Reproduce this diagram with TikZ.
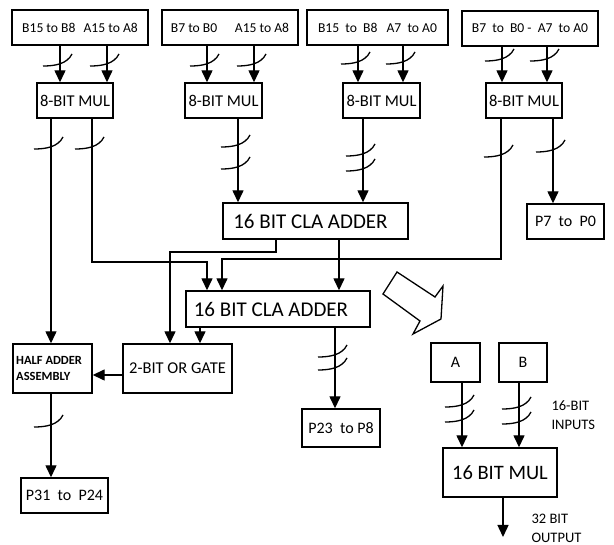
\documentclass[tikz,border=0pt]{standalone}
\usepackage{fontspec}
\setmainfont{Carlito}
\usetikzlibrary{arrows.meta}
\tikzset{
  box/.style={draw, line width=1.4pt, inner sep=0pt, anchor=center},
  arr/.style={line width=1.4pt, -{Triangle[width=11pt,length=12pt]}},
  bustick/.pic={\draw[line width=1.3pt] (-17,4) .. controls (-5,4) and (7,2) .. (12,-8);},
  ftop/.style={font=\fontsize{13.6}{16}\selectfont},
  fmul/.style={font=\fontsize{16.5}{19}\selectfont},
  fcla/.style={font=\fontsize{21}{24}\selectfont},
  fp/.style={font=\fontsize{16}{19}\selectfont},
  fsmall/.style={font=\fontsize{14.5}{19}\selectfont, align=left, anchor=west},
}
\begin{document}
\begin{tikzpicture}[x=1pt,y=-1pt]
\useasboundingbox (0,0) rectangle (614,545);
% top input boxes
\node[box, ftop, minimum width=136pt, minimum height=35pt] (b1) at (80,27.5) {B15 to B8\hspace{0.6em}A15 to A8};
\node[box, ftop, minimum width=136pt, minimum height=35pt] (b2) at (230,27.5) {B7 to B0\hspace{1.3em}A15 to A8};
\node[box, ftop, minimum width=141pt, minimum height=35pt] (b3) at (377.5,27.5) {B15\ \ to\ \ B8\ \ \ A7\ \ to A0};
\node[box, ftop, minimum width=136pt, minimum height=35pt] (b4) at (530,28.5) {\raisebox{-3pt}{B7\ \ to\ \ B0 -\ \ A7\ \ to A0}};
% 8-bit multipliers
\node[box, fmul, minimum width=76pt, minimum height=35pt] (m1) at (75,100.5) {8-BIT MUL};
\node[box, fmul, minimum width=77pt, minimum height=35pt] (m2) at (223.5,100.5) {8-BIT MUL};
\node[box, fmul, minimum width=77pt, minimum height=35pt] (m3) at (381.5,100.5) {8-BIT MUL};
\node[box, fmul, minimum width=76pt, minimum height=35pt] (m4) at (524,100.5) {8-BIT MUL};
% adders and outputs
\node[box, fcla, minimum width=185pt, minimum height=36pt] (cla1) at (315.5,221) {\hspace*{-10pt}16 BIT CLA ADDER};
\node[box, fp, minimum width=77pt, minimum height=35pt] (p70) at (565.5,221.5) {P7\ \ to\ \ P0};
\node[box, fcla, minimum width=184pt, minimum height=36pt] (cla2) at (278,309) {\hspace*{-14pt}16 BIT CLA ADDER};
\node[box, minimum width=79pt, minimum height=49pt] (ha) at (52.5,368.5) {};
\node[font=\fontsize{12.5}{16}\selectfont\bfseries, align=left, anchor=west, inner sep=0pt] (hat) at (16,368) {HALF ADDER\\ASSEMBLY};
\node[box, fmul, minimum width=109pt, minimum height=49pt] (orgate) at (177.5,368.5) {2-BIT OR GATE};
\node[box, fp, minimum width=87pt, minimum height=35pt] (p3124) at (64.5,495.5) {P31\ \ to\ \ P24};
\node[box, fp, minimum width=78pt, minimum height=38pt] (p238) at (341,428) {P23\ \ to P8};
% 16-bit multiplier overview
\node[box, fp, minimum width=49pt, minimum height=39pt] (A) at (455.5,362.5) {A};
\node[box, fp, minimum width=48pt, minimum height=39pt] (B) at (523,362.5) {B};
\node[box, font=\fontsize{20.5}{24}\selectfont, minimum width=114pt, minimum height=49pt] (mul16) at (500,472.5) {16 BIT MUL};
\node[fsmall] (inl) at (548,415) {16-BIT\\INPUTS};
\node[fsmall] (outl) at (528,528) {32 BIT\\OUTPUT};
% column coordinates
\foreach \c in {51,60,92,107,200,207,238,254,276,335,339,358,363,403,462,501,502,503,519,547,553}
  \coordinate (x\c) at (\c,0);
\coordinate (y375) at (0,375);
\coordinate (bus1) at (207,262);
\coordinate (bus2) at (222,259);
\coordinate (bus3) at (170,252);
\coordinate (out) at (503,537);
% inputs to 8-bit multipliers
\draw[arr] (b1.south -| x60) -- (m1.north -| x60);
\draw[arr] (b1.south -| x107) -- (m1.north -| x107);
\draw[arr] (b2.south -| x207) -- (m2.north -| x207);
\draw[arr] (b2.south -| x254) -- (m2.north -| x254);
\draw[arr] (b3.south -| x358) -- (m3.north -| x358);
\draw[arr] (b3.south -| x403) -- (m3.north -| x403);
\draw[arr] (b4.south -| x502) -- (m4.north -| x502);
\draw[arr] (b4.south -| x547) -- (m4.north -| x547);
% multiplier outputs
\draw[arr] (m1.south -| x51) -- (ha.north -| x51);
\draw[arr] (m1.south -| x92) |- (bus1) -- (cla2.north -| bus1);
\draw[arr] (m2.south -| x238) -- (cla1.north -| x238);
\draw[arr] (m3.south -| x363) -- (cla1.north -| x363);
\draw[arr] (m4.south -| x501) |- (bus2) -- (cla2.north -| bus2);
\draw[arr] (m4.south -| x553) -- (p70.north -| x553);
% adder outputs
\draw[arr] (cla1.south -| x276) |- (bus3) -- (orgate.north -| bus3);
\draw[arr] (cla1.south -| x339) -- (cla2.north -| x339);
\draw[arr] (cla2.south -| x200) -- (orgate.north -| x200);
\draw[arr] (cla2.south -| x335) -- (p238.north -| x335);
\draw[arr] (orgate.west |- y375) -- (ha.east |- y375);
\draw[arr] (ha.south -| x51) -- (p3124.north -| x51);
% 16-bit mul overview
\draw[arr] (A.south -| x462) -- (mul16.north -| x462);
\draw[arr] (B.south -| x519) -- (mul16.north -| x519);
\draw[arr] (mul16.south -| x503) -- (out);
% bus width ticks
\foreach \p in {(60,62),(107,62),(207,62),(254,62),(358,60),(403,60),(502,57),(547,57),
  (51,145),(92,145),(238,143),(238,165),(363,152),(363,167),(501,153),(553,148),
  (51,423),(335,353),(335,366),(462,403),(462,418),(519,405),(519,420)}
  \pic at \p {bustick};
% hollow arrow
\draw[line width=1.3pt, line join=miter] (383,294) -- (397,272) -- (435,297) -- (443,286) -- (441,319) -- (413,334) -- (420,321) -- cycle;
\end{tikzpicture}
\end{document}
